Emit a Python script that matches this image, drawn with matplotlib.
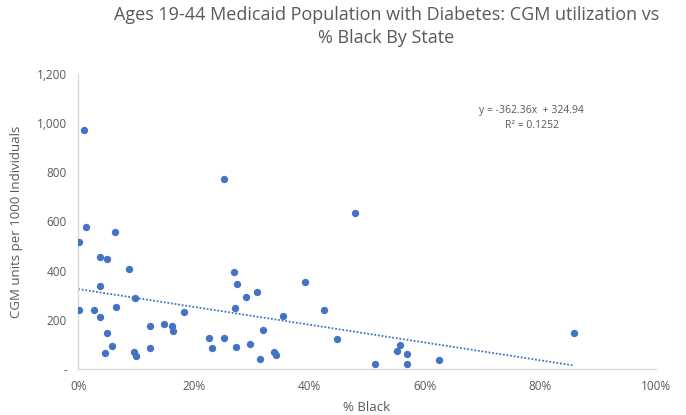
import matplotlib
matplotlib.use("Agg")
import matplotlib.pyplot as plt
import numpy as np
from matplotlib.ticker import FuncFormatter

# % Black by state (percent) and CGM units per 1000 individuals
pct_black = [1.0, 25.3, 1.3, 0.1, 6.4, 3.75, 5.0, 8.8, 3.75, 9.75,
             0.1, 2.7, 6.5, 3.75, 18.3, 5.0, 12.5, 14.8, 16.2, 16.4,
             5.9, 4.7, 9.6, 10.0, 12.5, 22.7, 23.2, 25.3, 27.3, 27.0,
             27.5, 29.0, 27.2, 29.8, 47.9, 30.9, 39.3, 35.5, 42.6, 32.0,
             44.8, 31.5, 33.9, 34.2, 51.3, 55.7, 55.2, 56.9, 57.0, 62.5,
             85.8]
cgm_units = [971, 772, 576, 515, 558, 454, 446, 408, 337, 290,
             240, 240, 251, 211, 230, 148, 173, 183, 173, 153,
             95, 65, 69, 54, 84, 127, 84, 127, 88, 394,
             344, 294, 248, 103, 635, 312, 355, 215, 240, 159,
             123, 41, 69, 56, 20, 99, 73, 60, 20, 37,
             148]
trend_slope = -362.36
trend_intercept = 324.94
r_squared = 0.1252

x_ticks = [0, 0.2, 0.4, 0.6, 0.8, 1.0]
y_ticks = [0, 200, 400, 600, 800, 1000, 1200]

plt.rcParams['font.family'] = ['Open Sans', 'DejaVu Sans']
grey = '#595959'
blue = '#4472C4'

fig = plt.figure(figsize=(6.86, 4.15), dpi=100)
ax = fig.add_axes([0.114, 0.111, 0.842, 0.711])

x = np.array(pct_black) / 100.0
y = np.array(cgm_units)
ax.scatter(x, y, s=28, color=blue, zorder=3, linewidths=0)

tx = np.array([0.0, x.max()])
ax.plot(tx, trend_slope * tx + trend_intercept, linestyle=(0, (1, 1)),
        color=blue, linewidth=1.3, zorder=2)

ax.set_xlim(0, 1.0)
ax.set_ylim(0, 1200)
ax.set_xticks(x_ticks)
ax.set_yticks(y_ticks)
ax.xaxis.set_major_formatter(FuncFormatter(lambda v, p: f"{v*100:.0f}%"))
ax.yaxis.set_major_formatter(FuncFormatter(lambda v, p: "-" if v == 0 else f"{v:,.0f}"))
ax.tick_params(length=0, colors=grey, labelsize=8.5, pad=8)
for side in ['top', 'right']:
    ax.spines[side].set_visible(False)
for side in ['left', 'bottom']:
    ax.spines[side].set_color('#D9D9D9')
    ax.spines[side].set_linewidth(1.0)

ax.set_xlabel('% Black', color=grey, fontsize=9.5, labelpad=6)
ax.set_ylabel('CGM units per 1000 Individuals', color=grey, fontsize=9.5, labelpad=10)

fig.text(0.563, 0.985, 'Ages 19-44 Medicaid Population with Diabetes: CGM utilization vs\n% Black By State',
         ha='center', va='top', color=grey, fontsize=13, linespacing=1.35)

ax.text(0.785, 0.85, f"y = {trend_slope}x  + {trend_intercept}\nR\u00b2 = {r_squared}",
        transform=ax.transAxes, ha='center', va='center', color=grey, fontsize=7.5, linespacing=1.5)

fig.savefig('out.png', dpi=100)
